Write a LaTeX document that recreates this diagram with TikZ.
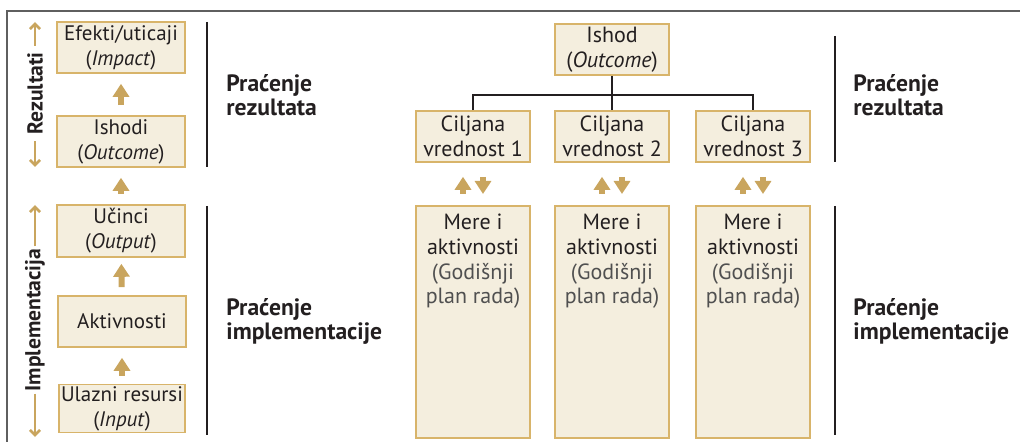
\documentclass[tikz,border=0pt]{standalone}
\usepackage{fontspec}
\setmainfont{PT Sans}
\usetikzlibrary{positioning,arrows.meta,calc}
\definecolor{gold}{RGB}{201,165,94}
\definecolor{boxfill}{RGB}{244,238,222}
\definecolor{boxline}{RGB}{216,180,106}
\definecolor{ink}{RGB}{35,31,32}
\definecolor{framegray}{RGB}{95,95,95}
\definecolor{subtext}{RGB}{80,80,80}

\begin{document}
\begin{tikzpicture}[x=0.5pt, y=-0.5pt,
    box/.style={draw=boxline, line width=0.8pt, fill=boxfill, text=ink, align=center,
        inner sep=0pt, minimum width=64pt, minimum height=25.5pt,
        font=\fontsize{10.5}{12.5}\selectfont},
    smallbox/.style={box, minimum width=57pt, font=\fontsize{11}{12.5}\selectfont},
    boxtext/.style={text=ink, align=center, inner sep=0pt, font=\fontsize{11}{12.3}\selectfont},
    heading/.style={text=ink, align=left, anchor=west, inner sep=0pt,
        font=\fontsize{11.8}{12}\selectfont\bfseries},
    sidelabel/.style={text=ink, rotate=90, inner sep=1pt, font=\fontsize{10.8}{12}\selectfont\bfseries},
    blockarrow/.style={draw=gold, line width=3pt, -{Triangle[width=8pt, length=6.5pt]}},
    sidearrow/.style={draw=gold, line width=1.3pt, -{Straight Barb[width=5pt, length=2.6pt]}},
    tree/.style={draw=ink, line width=0.6pt},
    divider/.style={draw=ink, line width=0.7pt}
]

    \useasboundingbox (0,0) rectangle (1020,442);

    % Okvir
    \draw[framegray, line width=0.8pt] (7,442) -- (7,11) -- (1020,11);

    % Lanac rezultata (levo)
    \node[box] (efekti) at (121,47.5) {Efekti/uticaji\\(\textit{Impact})};
    \node[box] (ishodi) at (121,141.5) {Ishodi\\(\textit{Outcome})};
    \node[box, minimum height=26pt] (ucinci) at (121,231) {Učinci\\(\textit{Output})};
    \node[box] (aktiv) at (122,321.5) {Aktivnosti};
    \node[box, minimum width=63pt, minimum height=24pt] (ulazni) at (122,408.5) {Ulazni resursi\\(\textit{Input})};

    \draw[blockarrow, shorten <=5pt, shorten >=5pt] (ishodi) -- (efekti);
    \draw[blockarrow, shorten <=5pt, shorten >=5pt] (ucinci) -- (ishodi);
    \draw[blockarrow, shorten <=4pt, shorten >=3pt] (aktiv) -- (ucinci);
    \draw[blockarrow, shorten <=4pt, shorten >=5pt] (ulazni) -- (aktiv);

    % Bocne oznake
    \node[sidelabel] (rez) at (35,93.5) {Rezultati};
    \coordinate (reztop) at (35,22);
    \coordinate (rezbot) at (35,167);
    \draw[sidearrow, shorten <=2pt] (rez.east) -- (reztop);
    \draw[sidearrow, shorten <=2pt] (rez.west) -- (rezbot);

    \node[sidelabel] (impl) at (35,320) {Implementacija};
    \coordinate (impltop) at (35,205);
    \coordinate (implbot) at (35,437);
    \draw[sidearrow] (impl.east) -- (impltop);
    \draw[sidearrow] (impl.west) -- (implbot);

    % Podele
    \draw[divider] (207,22) -- (207,167);
    \draw[divider] (207,206) -- (207,435);
    \node[heading] (prez) at (226,95) {Praćenje\\rezultata};
    \node[heading] (pimpl) at (226,321) {Praćenje\\implementacije};

    % Ishod i ciljane vrednosti (desno)
    \node[smallbox] (ishod) at (612,49.5) {Ishod\\(\textit{Outcome})};
    \foreach \i/\x in {1/473, 2/612, 3/753} {
        \node[smallbox] (cilj\i) at (\x,136.5) {Ciljana\\vrednost \i};
        \node[smallbox, anchor=north, minimum height=116pt] (mere\i) at (\x,205) {};
        \node[boxtext, below=4.5pt of mere\i.north] (meretxt\i)
            {Mere i\\aktivnosti\\\textcolor{subtext}{(Godišnji}\\\textcolor{subtext}{plan rada)}};
        \draw[blockarrow, shorten <=5.5pt, shorten >=7pt]
            ([xshift=-5pt]mere\i.north) -- ([xshift=-5pt]cilj\i.south);
        \draw[blockarrow, shorten <=7pt, shorten >=5.5pt]
            ([xshift=5pt]cilj\i.south) -- ([xshift=5pt]mere\i.north);
    }

    \coordinate (bus) at (612,95);
    \draw[tree] (ishod) -- (bus);
    \draw[tree] (cilj1.north) |- (bus) -| (cilj3.north);
    \draw[tree] (bus) -- (cilj2);

    \draw[divider] (835,36) -- (835,162);
    \draw[divider] (835,206) -- (835,435);
    \node[heading] (prez2) at (853,95) {Praćenje\\rezultata};
    \node[heading] (pimpl2) at (853,321) {Praćenje\\implementacije};

\end{tikzpicture}
\end{document}
